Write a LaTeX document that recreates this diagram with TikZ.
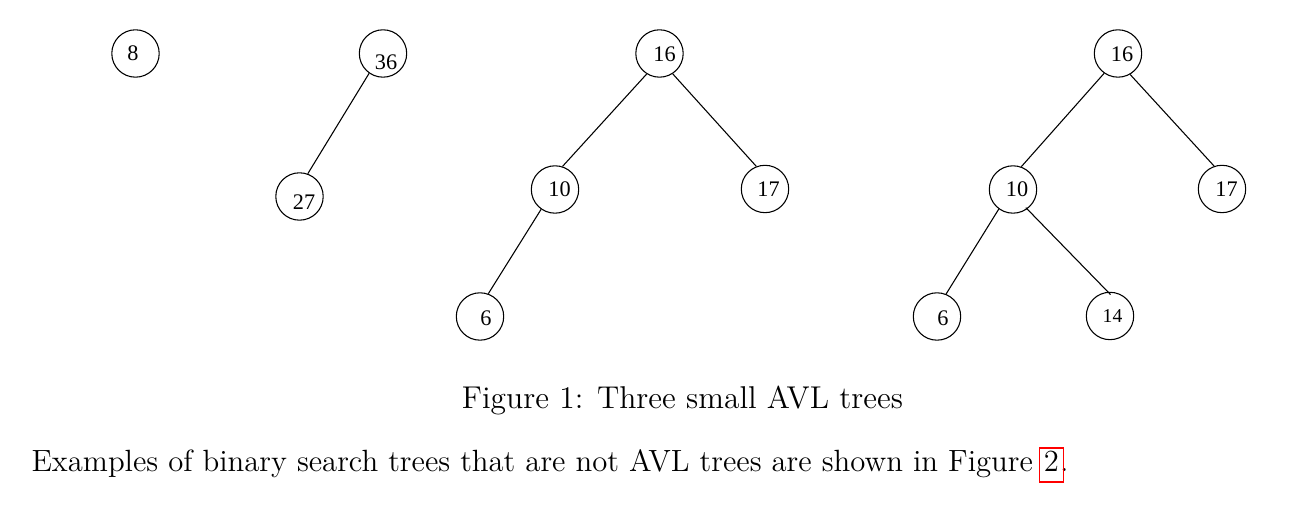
\documentclass[tikz,border=0pt]{standalone}
\usepackage{fontspec}
\newfontfamily\nodefont{Liberation Serif}
\usetikzlibrary{calc}
\begin{document}
\begin{tikzpicture}[x=0.3727pt,y=-0.3727pt,
  vtx/.style={circle,draw,minimum size=17.66pt,inner sep=0pt,line width=0.4pt},
  num/.style={inner sep=0pt,font=\nodefont\fontsize{8.3}{9}\selectfont},
  smallnum/.style={inner sep=0pt,font=\nodefont\fontsize{7.3}{8}\selectfont},
  edge/.style={line width=0.4pt},
  captxt/.style={inner sep=0pt,font=\fontsize{11.75}{14}\selectfont},
  txt/.style={inner sep=0pt,font=\fontsize{11.45}{14}\selectfont}]
\useasboundingbox (0,0) rectangle (1311,517);
% tree 1
\node[vtx] (a8) at (135.5,53.5) {};
\node[num] (l8) at ($(a8)+(-2.5,0)$) {8};
\node[vtx] (a36) at (383,53.5) {};
\node[num] (l36) at ($(a36)+(3,9)$) {36};
\node[vtx] (a27) at (299.5,196.5) {};
\node[num] (l27) at ($(a27)+(4.5,6)$) {27};
\draw[edge] (a36.235.7) -- (a27.70.1);
% tree 2
\node[vtx] (b16) at (659.5,53.5) {};
\node[num] (lb16) at ($(b16)+(5,1)$) {16};
\node[vtx] (b10) at (555,189.5) {};
\node[num] (lb10) at ($(b10)+(4.5,0)$) {10};
\node[vtx] (b17) at (765,189) {};
\node[num] (lb17) at ($(b17)+(3.5,0)$) {17};
\node[vtx] (b6) at (480,316.5) {};
\node[num] (lb6) at ($(b6)+(6,1.5)$) {6};
\draw[edge] (b16.238.3) -- (b10.72.7);
\draw[edge] (b16.303.4) -- (b17.111.4);
\draw[edge] (b10.235.7) -- (b6.70.4);
% tree 3
\node[vtx] (c16) at (1118,53.5) {};
\node[num] (lc16) at ($(c16)+(4,1)$) {16};
\node[vtx] (c10) at (1013,189.5) {};
\node[num] (lc10) at ($(c10)+(4,0)$) {10};
\node[vtx] (c17) at (1222,189) {};
\node[num] (lc17) at ($(c17)+(4.5,0)$) {17};
\node[vtx] (c6) at (937,316.5) {};
\node[num] (lc6) at ($(c6)+(6,1.5)$) {6};
\node[vtx] (c14) at (1110,316) {};
\node[smallnum] (lc14) at ($(c14)+(2.5,0.5)$) {14};
\draw[edge] (c16.235.7) -- (c10.70.4);
\draw[edge] (c16.300.8) -- (c17.109.2);
\draw[edge] (c10.234.6) -- (c6.68.2);
\draw[edge,shorten <=-0.75pt,shorten >=-1.4pt] (c10.306.6) -- (c14.95.7);
% caption and text
\node[captxt,anchor=base] (cap) at (682.5,409) {Figure 1: Three small AVL trees};
\node[txt,anchor=base west] (body) at (31,472) {Examples of binary search trees that are not AVL trees are shown in Figure};
\node[txt,anchor=base west] (ref) at ($(body.base east)+(3.7pt,0)$) {2};
\node[txt,anchor=base west] (dot) at (ref.base east) {.};
\draw[red,line width=0.55pt] ($(ref.base west)+(-1.5pt,-3.7pt)$) rectangle ($(ref.base east)+(1.5pt,8.9pt)$);
\end{tikzpicture}
\end{document}
